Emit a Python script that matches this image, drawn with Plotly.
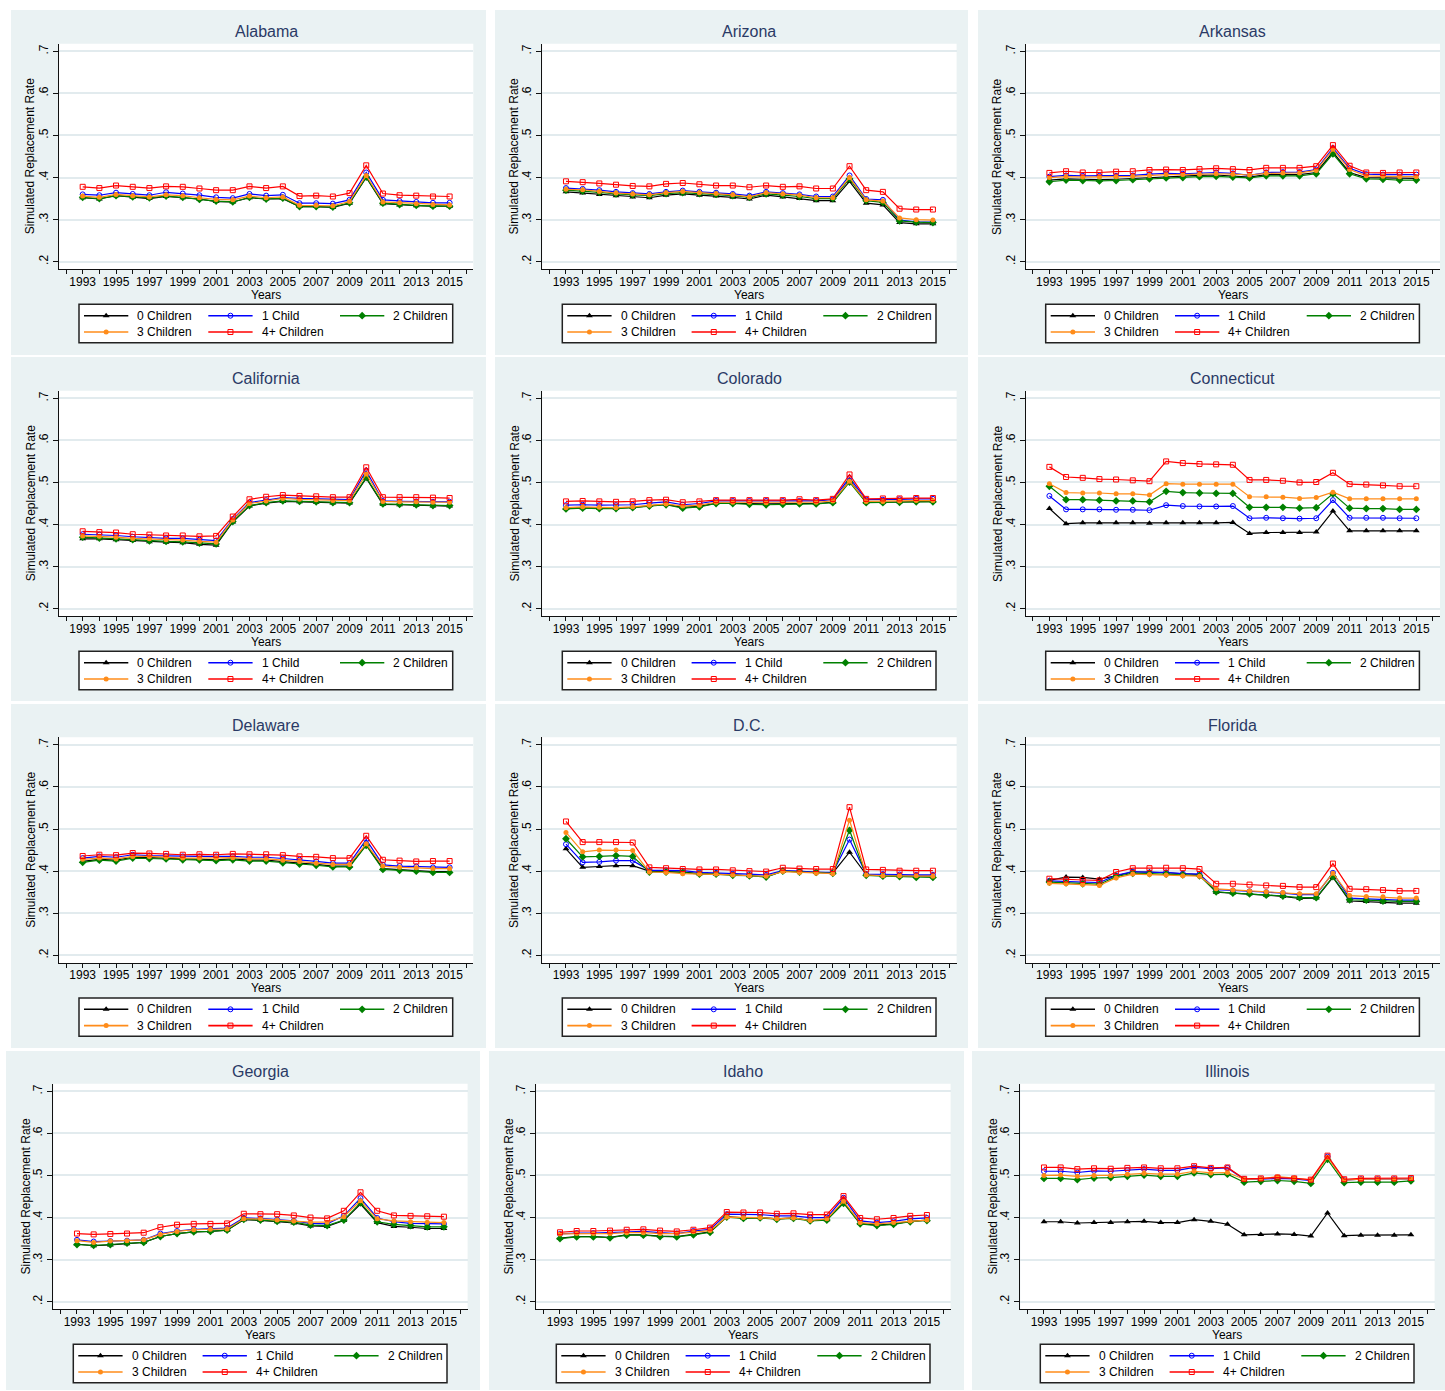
import plotly.graph_objects as go

W, H = 1445, 1391
FONT = "Liberation Sans, Arial, sans-serif"

YEARS = list(range(1993, 2016))
SERIES_NAMES = ["0 Children", "1 Child", "2 Children", "3 Children", "4+ Children"]
X_TICK_YEARS = list(range(1992, 2017))
X_TICK_TEXT = [str(y) if y % 2 == 1 and 1993 <= y <= 2015 else "" for y in X_TICK_YEARS]
Y_TICK_VALS = [0.2, 0.3, 0.4, 0.5, 0.6, 0.7]
Y_TICK_TEXT = [".2", ".3", ".4", ".5", ".6", ".7"]

# ---------------- data ----------------
AL0 = [.352,.349,.357,.353,.350,.355,.352,.349,.343,.342,.352,.349,.350,.331,.331,.329,.339,.400,.338,.335,.333,.332,.332]
AL1 = [.360,.358,.364,.361,.358,.365,.362,.358,.353,.351,.361,.357,.359,.339,.339,.338,.347,.412,.347,.344,.342,.340,.340]
AL2 = [.353,.350,.357,.354,.352,.356,.353,.348,.344,.342,.353,.349,.351,.331,.331,.330,.340,.401,.339,.336,.334,.332,.332]
AL3 = [.356,.353,.360,.357,.354,.359,.357,.352,.348,.347,.356,.352,.354,.334,.334,.333,.343,.405,.342,.340,.338,.336,.335]
AL4 = [.378,.375,.381,.378,.375,.379,.378,.374,.370,.370,.379,.375,.379,.356,.357,.355,.363,.429,.362,.358,.357,.355,.355]

AZ0 = [.366,.363,.360,.357,.354,.352,.358,.361,.358,.356,.353,.349,.358,.354,.350,.345,.345,.391,.339,.335,.293,.290,.290]
AZ1 = [.375,.373,.370,.366,.363,.361,.366,.369,.366,.364,.361,.357,.366,.363,.360,.355,.355,.405,.349,.347,.299,.295,.294]
AZ2 = [.370,.368,.365,.361,.359,.357,.362,.364,.362,.360,.357,.353,.361,.358,.355,.350,.350,.397,.345,.341,.297,.294,.293]
AZ3 = [.372,.371,.367,.363,.361,.359,.364,.367,.364,.362,.359,.354,.364,.361,.358,.352,.352,.400,.347,.344,.304,.300,.299]
AZ4 = [.391,.389,.386,.383,.380,.379,.385,.387,.384,.381,.381,.377,.381,.378,.379,.374,.374,.427,.370,.366,.326,.324,.324]

AR0 = [.394,.397,.396,.395,.396,.398,.400,.402,.403,.405,.406,.404,.401,.407,.407,.407,.412,.460,.412,.400,.399,.398,.398]
AR1 = [.402,.405,.404,.404,.404,.405,.408,.410,.409,.410,.412,.410,.405,.412,.413,.413,.419,.470,.422,.408,.407,.407,.407]
AR2 = [.390,.394,.393,.392,.393,.395,.397,.399,.400,.402,.403,.401,.399,.404,.404,.404,.409,.456,.409,.397,.396,.394,.394]
AR3 = [.400,.402,.401,.401,.402,.403,.405,.407,.407,.408,.409,.408,.406,.410,.411,.411,.417,.467,.419,.404,.403,.402,.402]
AR4 = [.411,.415,.412,.412,.414,.415,.418,.419,.418,.420,.422,.420,.418,.423,.423,.423,.427,.477,.428,.412,.411,.412,.412]

CA0 = [.366,.366,.364,.362,.359,.358,.357,.353,.351,.406,.444,.451,.455,.454,.453,.451,.451,.510,.448,.447,.446,.444,.444]
CA1 = [.377,.376,.374,.371,.369,.367,.367,.364,.362,.413,.452,.458,.464,.462,.461,.459,.459,.528,.456,.455,.455,.454,.454]
CA2 = [.370,.368,.366,.364,.361,.360,.359,.356,.354,.407,.445,.452,.456,.455,.454,.452,.452,.512,.449,.448,.447,.445,.445]
CA3 = [.373,.372,.370,.367,.366,.364,.363,.360,.358,.411,.450,.456,.462,.460,.459,.457,.457,.520,.455,.454,.454,.453,.453]
CA4 = [.384,.382,.381,.377,.376,.374,.374,.372,.373,.419,.460,.466,.470,.468,.467,.465,.465,.536,.465,.465,.465,.464,.463]

CO0 = [.438,.440,.439,.439,.441,.445,.448,.441,.443,.451,.451,.450,.449,.450,.450,.450,.453,.505,.453,.453,.454,.455,.455]
CO1 = [.446,.447,.446,.446,.447,.451,.454,.447,.450,.456,.456,.456,.456,.456,.456,.456,.459,.511,.459,.459,.460,.461,.461]
CO2 = [.437,.439,.438,.438,.440,.444,.447,.439,.442,.450,.450,.448,.447,.448,.449,.449,.452,.501,.452,.452,.453,.454,.454]
CO3 = [.440,.442,.441,.440,.442,.446,.449,.444,.446,.453,.453,.453,.452,.453,.453,.453,.456,.503,.455,.455,.456,.457,.457]
CO4 = [.455,.456,.455,.454,.455,.458,.459,.453,.455,.458,.458,.458,.458,.458,.460,.458,.461,.519,.461,.462,.462,.463,.463]

CT0 = [.438,.402,.404,.404,.404,.404,.403,.404,.404,.404,.404,.405,.379,.381,.381,.381,.382,.432,.385,.385,.385,.385,.385]
CT1 = [.468,.436,.436,.436,.435,.435,.434,.446,.444,.443,.443,.444,.415,.416,.415,.414,.415,.458,.416,.416,.416,.415,.415]
CT2 = [.491,.459,.459,.458,.456,.456,.454,.479,.476,.475,.474,.474,.441,.441,.441,.439,.440,.473,.439,.438,.438,.436,.436]
CT3 = [.497,.476,.475,.475,.473,.473,.470,.497,.496,.496,.496,.496,.466,.466,.465,.462,.464,.477,.461,.461,.461,.461,.461]
CT4 = [.537,.513,.511,.508,.507,.505,.503,.550,.546,.544,.543,.542,.506,.506,.504,.500,.501,.523,.496,.495,.493,.491,.491]

DE0 = [.423,.428,.426,.433,.432,.431,.429,.429,.427,.429,.426,.426,.422,.419,.416,.412,.412,.463,.406,.404,.402,.399,.399]
DE1 = [.431,.435,.433,.439,.437,.436,.435,.435,.435,.435,.433,.433,.430,.427,.423,.419,.419,.475,.415,.412,.411,.409,.409]
DE2 = [.421,.426,.424,.431,.430,.429,.427,.427,.425,.427,.424,.424,.420,.417,.414,.410,.410,.461,.404,.402,.400,.397,.397]
DE3 = [.428,.431,.429,.435,.435,.433,.431,.431,.431,.432,.429,.429,.426,.423,.419,.416,.416,.465,.412,.409,.408,.406,.406]
DE4 = [.436,.439,.438,.443,.442,.441,.439,.440,.439,.441,.440,.440,.438,.435,.434,.431,.431,.484,.427,.425,.423,.424,.424]

DC0 = [.453,.409,.411,.413,.413,.400,.399,.398,.394,.393,.392,.389,.387,.400,.399,.397,.396,.445,.392,.389,.389,.388,.388]
DC1 = [.464,.421,.422,.425,.425,.402,.402,.401,.397,.396,.394,.393,.391,.401,.400,.397,.397,.475,.393,.393,.392,.391,.391]
DC2 = [.477,.434,.435,.437,.435,.398,.398,.397,.393,.393,.390,.389,.386,.400,.398,.397,.395,.497,.390,.388,.387,.385,.385]
DC3 = [.492,.446,.450,.450,.449,.398,.397,.394,.393,.393,.391,.389,.388,.399,.397,.395,.394,.521,.391,.389,.389,.389,.388]
DC4 = [.518,.469,.469,.469,.468,.409,.407,.405,.404,.404,.402,.400,.399,.408,.406,.405,.405,.552,.404,.403,.401,.401,.401]

FL0 = [.378,.386,.385,.381,.389,.398,.398,.396,.393,.392,.350,.348,.346,.343,.340,.335,.336,.385,.329,.328,.326,.324,.324]
FL1 = [.377,.375,.374,.373,.390,.399,.397,.397,.394,.393,.356,.354,.352,.350,.348,.344,.344,.396,.336,.334,.332,.331,.331]
FL2 = [.374,.372,.370,.369,.387,.395,.394,.393,.391,.389,.351,.348,.346,.343,.341,.337,.337,.387,.332,.331,.329,.328,.328]
FL3 = [.371,.370,.368,.366,.384,.393,.392,.391,.389,.388,.358,.355,.353,.351,.349,.346,.346,.395,.342,.340,.339,.336,.336]
FL4 = [.382,.380,.379,.378,.398,.407,.407,.408,.407,.405,.370,.370,.368,.366,.365,.362,.362,.418,.358,.357,.355,.353,.353]

GA0 = [.337,.333,.335,.338,.341,.355,.362,.366,.367,.370,.395,.393,.390,.387,.380,.379,.393,.432,.388,.379,.377,.374,.374]
GA1 = [.347,.343,.344,.345,.347,.362,.368,.372,.373,.375,.399,.398,.395,.392,.386,.385,.404,.446,.399,.390,.386,.385,.385]
GA2 = [.336,.334,.336,.339,.341,.355,.362,.366,.367,.370,.396,.394,.391,.389,.382,.381,.394,.435,.390,.384,.381,.378,.378]
GA3 = [.345,.341,.344,.345,.347,.360,.367,.371,.372,.373,.397,.397,.394,.392,.389,.389,.402,.440,.397,.392,.390,.389,.388]
GA4 = [.362,.360,.361,.362,.364,.377,.383,.385,.385,.386,.409,.408,.408,.405,.400,.398,.416,.460,.416,.405,.404,.403,.402]

ID0 = [.351,.355,.355,.353,.359,.359,.356,.355,.360,.366,.402,.399,.400,.397,.399,.393,.395,.436,.386,.382,.385,.391,.394]
ID1 = [.361,.363,.363,.364,.366,.367,.364,.362,.368,.372,.408,.407,.407,.404,.404,.400,.400,.447,.392,.388,.391,.397,.399]
ID2 = [.350,.354,.354,.352,.358,.358,.355,.354,.359,.365,.401,.398,.399,.396,.398,.392,.394,.434,.385,.381,.384,.390,.393]
ID3 = [.361,.362,.362,.362,.364,.364,.362,.362,.366,.369,.401,.400,.400,.397,.399,.393,.397,.439,.388,.385,.388,.392,.394]
ID4 = [.365,.368,.368,.369,.371,.372,.369,.367,.371,.376,.413,.412,.412,.409,.410,.407,.407,.451,.399,.396,.399,.404,.406]

IL0 = [.390,.390,.387,.388,.388,.390,.391,.388,.388,.395,.391,.384,.359,.360,.361,.360,.356,.411,.357,.358,.358,.358,.359]
IL1 = [.510,.510,.507,.511,.510,.513,.515,.512,.512,.519,.516,.518,.491,.491,.493,.492,.488,.545,.489,.491,.491,.491,.492]
IL2 = [.493,.493,.490,.494,.495,.498,.501,.498,.498,.506,.502,.503,.484,.486,.488,.486,.481,.538,.483,.484,.484,.484,.487]
IL3 = [.500,.501,.498,.500,.500,.503,.505,.503,.503,.510,.506,.507,.491,.492,.497,.494,.489,.543,.489,.491,.491,.491,.492]
IL4 = [.519,.519,.515,.517,.516,.518,.519,.517,.517,.522,.518,.519,.492,.493,.495,.493,.490,.547,.491,.493,.493,.493,.494]

STATE_NAMES = ["Alabama", "Arizona", "Arkansas", "California", "Colorado", "Connecticut",
               "Delaware", "D.C.", "Florida", "Georgia", "Idaho", "Illinois"]
STATE_SERIES = [
    [AL0, AL1, AL2, AL3, AL4], [AZ0, AZ1, AZ2, AZ3, AZ4], [AR0, AR1, AR2, AR3, AR4],
    [CA0, CA1, CA2, CA3, CA4], [CO0, CO1, CO2, CO3, CO4], [CT0, CT1, CT2, CT3, CT4],
    [DE0, DE1, DE2, DE3, DE4], [DC0, DC1, DC2, DC3, DC4], [FL0, FL1, FL2, FL3, FL4],
    [GA0, GA1, GA2, GA3, GA4], [ID0, ID1, ID2, ID3, ID4], [IL0, IL1, IL2, IL3, IL4],
]

# ---------------- styles ----------------
COLORS = ["#000000", "#0000FF", "#008000", "#FF8C1A", "#FF0000"]
SYMBOLS = ["triangle-up", "circle-open", "diamond", "circle", "square-open"]
MSIZES = [6, 5, 6, 5, 5]
PANEL_BG = "#EAF2F3"
GRID = "#E2EBEE"
TITLE_COLOR = "#2A3A66"

# ---------------- geometry (pixels) ----------------
BG_X = [[(11, 486), (495, 968), (978, 1445)]] * 3 + [[(6, 480), (489, 964), (972, 1445)]]
BG_Y = [(10, 355), (357, 701), (704, 1048), (1051, 1390)]
PLOT_L = [[59, 542.3, 1025.7]] * 3 + [[53.3, 536.3, 1020.3]]
PLOT_T = [43.7, 390.7, 737.3, 1083.7]
PLOT_W = 414.3
PLOT_H = 225.6
X_RANGE = [1991.58, 2016.42]
Y_RANGE = [0.182, 0.718]

LEG_COL_LINE = [25, 149.3, 281]
LEG_LINE_LEN = 44.3
LEG_TEXT_DX = 51.3
LEG_ITEMS = [(0, 0, 0), (1, 1, 0), (2, 2, 0), (3, 0, 1), (4, 1, 1)]  # (series, col, row)


def px(x):
    return x / W


def py(y):
    return 1 - y / H


fig = go.Figure()
shapes = []
annotations = []
layout_axes = {}

# legend key geometry, collected in pixel coordinates for an overlay axis
leg_line_x = {s: [] for s in range(5)}
leg_line_y = {s: [] for s in range(5)}
leg_mark_x = {s: [] for s in range(5)}
leg_mark_y = {s: [] for s in range(5)}

for i, (name, series) in enumerate(zip(STATE_NAMES, STATE_SERIES)):
    r, c = divmod(i, 3)
    bx0, bx1 = BG_X[r][c]
    by0, by1 = BG_Y[r]
    L = PLOT_L[r][c]
    T = PLOT_T[r]
    R = L + PLOT_W
    B = T + PLOT_H
    cx = (L + R) / 2

    shapes.append(dict(type="rect", xref="paper", yref="paper", layer="below",
                       x0=px(bx0), x1=px(bx1), y0=py(by1), y1=py(by0),
                       fillcolor=PANEL_BG, line=dict(width=0)))
    shapes.append(dict(type="rect", xref="paper", yref="paper", layer="below",
                       x0=px(L), x1=px(R), y0=py(B), y1=py(T),
                       fillcolor="white", line=dict(width=0)))

    k = i + 1
    xa = "x" if k == 1 else f"x{k}"
    ya = "y" if k == 1 else f"y{k}"
    xname = "xaxis" if k == 1 else f"xaxis{k}"
    yname = "yaxis" if k == 1 else f"yaxis{k}"
    layout_axes[xname] = dict(
        domain=[px(L), px(R)], anchor=ya, range=X_RANGE,
        showline=True, linecolor="#111", linewidth=1.3, mirror=False,
        ticks="outside", ticklen=4, tickwidth=1, tickcolor="#111",
        tickmode="array", tickvals=X_TICK_YEARS, ticktext=X_TICK_TEXT,
        ticklabelstandoff=-3,
        tickfont=dict(family=FONT, size=12, color="#000"),
        showgrid=False, zeroline=False, fixedrange=True,
    )
    layout_axes[yname] = dict(
        domain=[py(B), py(T)], anchor=xa, range=Y_RANGE,
        showline=True, linecolor="#111", linewidth=1.3, mirror=False,
        ticks="outside", ticklen=5, tickwidth=1, tickcolor="#111",
        tickmode="array", tickvals=Y_TICK_VALS, ticktext=Y_TICK_TEXT, tickangle=-90,
        tickfont=dict(family=FONT, size=12, color="#000"),
        showgrid=True, gridcolor=GRID, gridwidth=1.5, zeroline=False, fixedrange=True,
    )

    for s, vals in enumerate(series):
        open_sym = SYMBOLS[s].endswith("open")
        fig.add_trace(go.Scatter(
            x=YEARS, y=vals, mode="lines+markers", xaxis=xa, yaxis=ya,
            name=SERIES_NAMES[s], showlegend=False, hoverinfo="skip",
            line=dict(color=COLORS[s], width=1.2),
            marker=dict(symbol=SYMBOLS[s], size=MSIZES[s], color=COLORS[s],
                        line=dict(width=1 if open_sym else 0, color=COLORS[s])),
        ))

    # texts
    annotations.append(dict(text=name, x=px(cx), y=py(T - 12), xref="paper", yref="paper",
                            showarrow=False, xanchor="center", yanchor="middle",
                            font=dict(family=FONT, size=16, color=TITLE_COLOR)))
    annotations.append(dict(text="Simulated Replacement Rate", x=px(L - 28.3), y=py(T + PLOT_H / 2),
                            xref="paper", yref="paper", showarrow=False, textangle=-90,
                            xanchor="center", yanchor="middle",
                            font=dict(family=FONT, size=12, color="#000")))
    annotations.append(dict(text="Years", x=px(cx), y=py(B + 25.5), xref="paper", yref="paper",
                            showarrow=False, xanchor="center", yanchor="middle",
                            font=dict(family=FONT, size=12, color="#000")))

    # legend box
    shapes.append(dict(type="rect", xref="paper", yref="paper", layer="below",
                       x0=px(L + 20), x1=px(L + 393.7), y0=py(B + 73.4), y1=py(B + 35),
                       fillcolor="white", line=dict(color="#222", width=1.5)))
    for s, col, row in LEG_ITEMS:
        ly = B + (46.4 if row == 0 else 62.7)
        lx0 = L + LEG_COL_LINE[col]
        lx1 = lx0 + LEG_LINE_LEN
        leg_line_x[s] += [lx0, lx1, None]
        leg_line_y[s] += [ly, ly, None]
        leg_mark_x[s].append((lx0 + lx1) / 2)
        leg_mark_y[s].append(ly)
        annotations.append(dict(text=SERIES_NAMES[s], x=px(lx0 + LEG_TEXT_DX), y=py(ly),
                                xref="paper", yref="paper", showarrow=False,
                                xanchor="left", yanchor="middle",
                                font=dict(family=FONT, size=12, color="#000")))

# overlay axis in pixel coordinates for legend keys
layout_axes["xaxis13"] = dict(domain=[0, 1], range=[0, W], visible=False, anchor="y13",
                              fixedrange=True, showgrid=False, zeroline=False)
layout_axes["yaxis13"] = dict(domain=[0, 1], range=[H, 0], visible=False, anchor="x13",
                              fixedrange=True, showgrid=False, zeroline=False)
for s in range(5):
    fig.add_trace(go.Scatter(x=leg_line_x[s], y=leg_line_y[s], mode="lines", xaxis="x13", yaxis="y13",
                             showlegend=False, hoverinfo="skip",
                             line=dict(color=COLORS[s], width=1.6)))
for s in range(5):
    open_sym = SYMBOLS[s].endswith("open")
    fig.add_trace(go.Scatter(x=leg_mark_x[s], y=leg_mark_y[s], mode="markers", xaxis="x13", yaxis="y13",
                             showlegend=False, hoverinfo="skip",
                             marker=dict(symbol=SYMBOLS[s], size=MSIZES[s], color=COLORS[s],
                                         line=dict(width=1 if open_sym else 0, color=COLORS[s]))))

fig.update_layout(
    width=W, height=H, autosize=False,
    margin=dict(l=0, r=0, t=0, b=0),
    paper_bgcolor="white", plot_bgcolor="rgba(0,0,0,0)",
    showlegend=False,
    shapes=shapes, annotations=annotations,
    font=dict(family=FONT, size=12, color="#000"),
    **layout_axes,
)

fig.write_html("out.html", config={"displayModeBar": False},
               post_script="document.body.style.margin='0px';document.body.style.padding='0px';")
